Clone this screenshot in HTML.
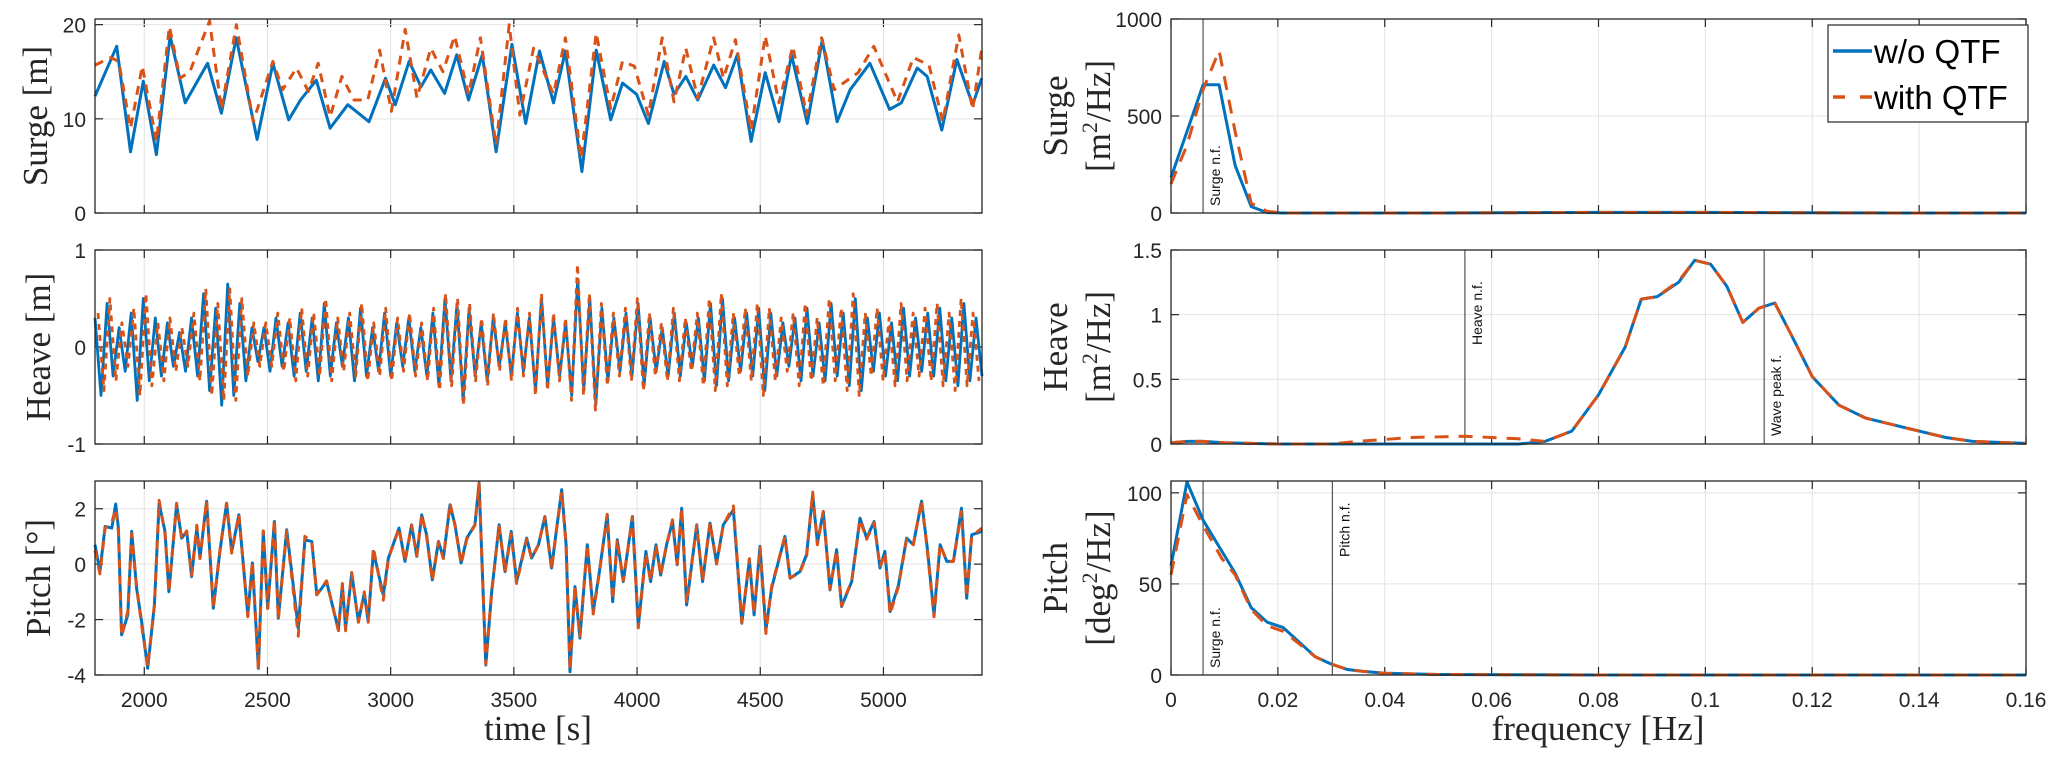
<!DOCTYPE html>
<html><head><meta charset="utf-8"><style>
body{margin:0;background:#fff;}
svg{display:block;}
.tk{font-family:"Liberation Sans",sans-serif;font-size:21px;fill:#262626;}
.lb{font-family:"Liberation Serif",serif;font-size:35px;fill:#262626;}
.an{font-family:"Liberation Sans",sans-serif;font-size:14px;fill:#111;}
.lg{font-family:"Liberation Sans",sans-serif;font-size:33px;fill:#000;}
</style></head><body>
<svg id="fig" width="2067" height="762" viewBox="0 0 2067 762"></svg>
<script>
// ---- data ----
const surgeT_B=[1800,1888,1944,1996,2049,2105,2166,2257,2313,2373,2458,2522,2586,2634,2698,2754,2826,2912,2979,3019,3075,3123,3163,3219,3268,3316,3372,3428,3492,3548,3604,3661,3709,3776,3834,3893,3941,3998,4046,4110,4150,4198,4246,4311,4359,4407,4463,4520,4576,4627,4691,4752,4812,4865,4945,5025,5073,5137,5177,5237,5298,5362,5399];
const surgeB=[12.4,17.7,6.5,14.0,6.2,18.8,11.7,15.9,10.6,18.6,7.8,15.9,9.9,12.0,14.1,9.0,11.5,9.7,14.3,11.5,16.1,13.4,15.2,12.7,16.8,12.0,16.8,6.5,17.9,9.5,17.2,11.7,17.2,4.4,17.3,9.9,13.8,12.6,9.5,16.1,12.6,14.5,12.0,15.7,13.3,16.8,7.6,14.9,9.7,16.8,9.5,18.4,9.7,13.1,15.9,11.0,11.7,15.4,14.5,8.8,16.3,11.5,14.3];
const surgeT_Q=[1800,1864,1896,1944,1992,2049,2102,2145,2185,2265,2313,2374,2442,2522,2562,2618,2666,2706,2754,2802,2851,2907,2955,3003,3059,3107,3163,3212,3260,3316,3364,3428,3481,3524,3580,3661,3709,3773,3834,3893,3941,3989,4046,4102,4150,4198,4246,4311,4351,4399,4463,4520,4576,4632,4688,4749,4800,4897,4961,5057,5121,5185,5241,5306,5362,5399];
const surgeQ=[15.7,16.5,16.1,9.0,15.6,7.6,19.8,14.3,15.0,20.4,11.0,20.0,9.7,16.1,13.1,15.4,12.9,15.9,10.2,14.5,12.0,12.0,17.3,10.8,19.5,12.2,17.5,15.0,18.8,12.6,18.6,7.2,20.0,10.4,17.5,12.6,18.6,5.8,19.1,11.1,16.1,15.6,10.4,18.6,11.8,17.5,12.2,18.6,14.3,18.4,8.8,18.8,11.7,17.7,10.4,18.6,13.1,14.9,17.7,11.8,16.5,15.7,9.7,18.9,11.0,17.5];
const heaveB=[0.3,-0.5,0.45,-0.3,0.2,-0.25,0.35,-0.55,0.5,-0.35,0.3,-0.3,0.25,-0.2,0.15,-0.25,0.3,-0.3,0.55,-0.45,0.4,-0.6,0.65,-0.5,0.45,-0.35,0.2,-0.15,0.2,-0.25,0.3,-0.2,0.25,-0.3,0.35,-0.25,0.3,-0.35,0.45,-0.3,0.25,-0.2,0.3,-0.35,0.4,-0.3,0.2,-0.25,0.35,-0.3,0.25,-0.2,0.3,-0.25,0.2,-0.3,0.35,-0.4,0.5,-0.35,0.45,-0.55,0.4,-0.3,0.25,-0.35,0.3,-0.2,0.25,-0.3,0.35,-0.25,0.3,-0.45,0.5,-0.4,0.3,-0.3,0.25,-0.5,0.7,-0.45,0.5,-0.6,0.4,-0.35,0.3,-0.25,0.35,-0.3,0.45,-0.4,0.3,-0.25,0.2,-0.3,0.35,-0.3,0.25,-0.2,0.3,-0.35,0.45,-0.4,0.5,-0.35,0.3,-0.25,0.35,-0.3,0.4,-0.45,0.35,-0.3,0.25,-0.2,0.3,-0.35,0.4,-0.3,0.25,-0.35,0.45,-0.3,0.35,-0.4,0.5,-0.45,0.3,-0.25,0.35,-0.3,0.25,-0.35,0.4,-0.3,0.3,-0.25,0.35,-0.3,0.4,-0.35,0.3,-0.4,0.45,-0.35,0.3,-0.3];
const heaveQ=[0.35,-0.45,0.5,-0.35,0.25,-0.2,0.4,-0.5,0.55,-0.4,0.25,-0.35,0.3,-0.25,0.2,-0.2,0.35,-0.35,0.6,-0.5,0.45,-0.55,0.6,-0.55,0.5,-0.3,0.25,-0.2,0.25,-0.2,0.35,-0.25,0.3,-0.35,0.4,-0.3,0.35,-0.3,0.5,-0.35,0.3,-0.25,0.35,-0.3,0.45,-0.35,0.25,-0.3,0.4,-0.35,0.3,-0.25,0.35,-0.3,0.25,-0.35,0.4,-0.45,0.55,-0.4,0.5,-0.6,0.45,-0.35,0.3,-0.4,0.35,-0.25,0.3,-0.35,0.4,-0.3,0.35,-0.5,0.55,-0.45,0.35,-0.35,0.3,-0.55,0.85,-0.5,0.55,-0.65,0.45,-0.4,0.35,-0.3,0.4,-0.35,0.5,-0.45,0.35,-0.3,0.25,-0.35,0.4,-0.35,0.3,-0.25,0.35,-0.4,0.5,-0.45,0.55,-0.4,0.35,-0.3,0.4,-0.35,0.45,-0.5,0.4,-0.35,0.3,-0.25,0.35,-0.4,0.45,-0.35,0.3,-0.4,0.5,-0.35,0.4,-0.45,0.55,-0.5,0.35,-0.3,0.4,-0.35,0.3,-0.4,0.45,-0.35,0.35,-0.3,0.4,-0.35,0.45,-0.4,0.35,-0.45,0.5,-0.4,0.35,-0.35];
const pitchT=[1800,1820,1841,1868,1884,1895,1908,1933,1949,1969,1989,2014,2041,2060,2084,2100,2131,2152,2172,2192,2213,2226,2253,2280,2307,2334,2355,2384,2420,2439,2463,2483,2501,2528,2544,2578,2625,2652,2680,2700,2740,2788,2804,2817,2842,2869,2893,2909,2930,2970,2991,3034,3058,3085,3106,3126,3146,3169,3194,3214,3241,3261,3286,3309,3342,3359,3386,3410,3440,3464,3489,3511,3552,3572,3600,3626,3653,3674,3694,3712,3728,3748,3768,3798,3822,3847,3879,3901,3920,3944,3981,4005,4036,4055,4077,4096,4120,4144,4163,4181,4201,4242,4266,4296,4323,4350,4391,4425,4456,4475,4499,4523,4546,4600,4621,4661,4688,4713,4732,4756,4783,4810,4830,4871,4905,4932,4962,4986,5006,5027,5061,5094,5121,5155,5178,5205,5230,5257,5284,5317,5338,5358,5399];
const pitchB=[0.7,-0.27,1.36,1.3,2.17,1.3,-2.55,-1.83,1.18,-0.87,-2.07,-3.76,-1.47,2.2,1.18,-0.99,2.14,0.94,1.18,-0.45,1.3,0.22,2.27,-1.59,0.46,2.2,0.46,1.78,-1.83,0.04,-3.76,1.18,-1.59,1.54,-1.95,1.24,-2.31,0.88,0.82,-1.11,-0.63,-2.37,-0.75,-2.31,-0.33,-2.07,-1.05,-2.07,0.46,-1.11,0.22,1.3,0.1,1.42,0.28,1.78,1.06,-0.57,0.82,0.22,2.14,1.42,0.04,0.94,1.42,2.93,-3.64,-0.99,1.42,-0.27,1.18,-0.63,0.94,0.22,0.7,1.72,-0.14,1.3,2.69,0.7,-3.88,-0.81,-2.67,0.7,-1.71,-0.27,1.78,-1.35,0.88,-0.63,1.72,-2.25,0.46,-0.63,0.7,-0.39,0.7,1.54,-0.02,2.02,-1.47,1.42,-0.63,1.48,0.04,1.42,1.96,-2.13,0.16,-1.83,0.64,-2.37,-0.87,1.0,-0.51,-0.27,0.34,2.51,0.76,1.9,-0.93,0.52,-1.53,-0.63,1.66,0.94,1.54,-0.14,0.46,-1.71,-0.75,0.94,0.7,2.27,0.58,-1.83,0.7,0.1,0.1,2.02,-1.23,1.06,1.18];
const pitchQ=[0.5,-0.35,1.3,1.5,2.0,1.2,-2.6,-1.7,1.1,-0.8,-2.2,-3.7,-1.5,2.3,1.1,-1.0,2.2,0.9,1.2,-0.4,1.4,0.2,2.3,-1.6,0.5,2.2,0.4,1.8,-1.9,0.1,-3.8,1.2,-1.6,1.6,-2.0,1.2,-2.6,1.0,0.8,-1.1,-0.6,-2.4,-0.7,-2.4,-0.3,-2.1,-1.0,-2.1,0.6,-1.3,0.2,1.3,0.1,1.4,0.3,1.8,1.0,-0.6,0.8,0.2,2.2,1.4,0.0,0.9,1.4,2.9,-3.6,-1.0,1.4,-0.3,1.1,-0.7,0.9,0.2,0.7,1.7,-0.2,1.3,2.6,0.7,-3.8,-0.8,-2.6,0.7,-1.8,-0.3,1.8,-1.3,0.9,-0.6,1.7,-2.3,0.4,-0.6,0.7,-0.4,0.7,1.6,0.0,2.0,-1.4,1.4,-0.6,1.5,0.0,1.4,2.1,-2.1,0.2,-1.8,0.6,-2.5,-0.8,1.0,-0.5,-0.3,0.3,2.6,0.7,1.9,-0.9,0.5,-1.5,-0.6,1.6,0.9,1.5,-0.1,0.4,-1.8,-0.8,0.9,0.7,2.3,0.5,-1.9,0.7,0.1,0.1,1.9,-1.2,1.0,1.3];
const fS=[0,0.003,0.006,0.009,0.012,0.015,0.018,0.021,0.03,0.05,0.08,0.1,0.12,0.14,0.16];
const psdSurgeB=[183,420,661,661,246,33,2,0,0,0,3,3,1,0,0];
const psdSurgeQ=[150,350,636,837,420,50,8,0,0,0,3,3,1,0,0];
const fH=[0,0.003,0.006,0.01,0.02,0.03,0.035,0.045,0.055,0.065,0.07,0.075,0.08,0.085,0.088,0.091,0.095,0.098,0.101,0.104,0.107,0.110,0.113,0.116,0.12,0.125,0.13,0.135,0.14,0.145,0.15,0.16];
const psdHeaveB=[0.01,0.02,0.02,0.01,0,0,0,0,0,0,0.02,0.1,0.38,0.75,1.12,1.14,1.25,1.42,1.39,1.22,0.94,1.05,1.09,0.85,0.52,0.3,0.2,0.15,0.1,0.05,0.02,0.005];
const psdHeaveQ=[0.01,0.02,0.02,0.01,0,0,0.02,0.05,0.06,0.04,0.02,0.1,0.38,0.75,1.12,1.14,1.26,1.42,1.39,1.22,0.94,1.05,1.09,0.85,0.52,0.3,0.2,0.15,0.1,0.05,0.02,0.005];
const fP=[0,0.003,0.006,0.0095,0.012,0.015,0.018,0.021,0.024,0.027,0.030,0.033,0.036,0.04,0.05,0.08,0.16];
const psdPitchB=[60,106,85,68,56,37,29,26,18,10,6,3,2,1,0.3,0,0];
const psdPitchQ=[55,99,82,64,55,36,27,24,17,10,6,3,2,1,0.3,0,0];
const timeTicks=[2000,2500,3000,3500,4000,4500,5000];
const freqTicks=[0,0.02,0.04,0.06,0.08,0.1,0.12,0.14,0.16];
const freqTickLabels=["0","0.02","0.04","0.06","0.08","0.1","0.12","0.14","0.16"];
const markers=[{p:0,f:0.006,t:"Surge n.f.",y:206},{p:1,f:0.055,t:"Heave n.f.",y:345},{p:1,f:0.111,t:"Wave peak f.",y:436},{p:2,f:0.006,t:"Surge n.f.",y:668},{p:2,f:0.0302,t:"Pitch n.f.",y:557}];

const NS="http://www.w3.org/2000/svg";
const svg=document.getElementById('fig');
function mk(tag,at,parent){const e=document.createElementNS(NS,tag);for(const k in at)e.setAttribute(k,at[k]);(parent||svg).appendChild(e);return e;}
const rows=[[19,213],[250,444],[481,675]];
const BLUE="#0072BD",ORG="#D95319";
function scale(d0,d1,r0,r1){return v=>r0+(v-d0)/(d1-d0)*(r1-r0);}
function panel(x0,x1,y0,y1,xd,yd,xt,yt,ytl,xtl,name){
  const g=mk('g',{});
  
  
  const sx=scale(xd[0],xd[1],x0,x1),sy=scale(yd[0],yd[1],y1,y0);
  xt.forEach((v,i)=>{const x=sx(v);
    const gl=mk('line',{x1:x,x2:x,y1:y0,y2:y1,stroke:'#e3e3e3','stroke-width':1},g);
    
    mk('line',{x1:x,x2:x,y1:y1,y2:y1-8,stroke:'#262626','stroke-width':1.2},g);
    mk('line',{x1:x,x2:x,y1:y0,y2:y0+8,stroke:'#262626','stroke-width':1.2},g);
    if(xtl){const t=mk('text',{x:x,y:y1+32,'text-anchor':'middle',class:'tk'},g);t.textContent=xtl[i];
      }
  });
  yt.forEach((v,i)=>{const y=sy(v);
    const gl=mk('line',{x1:x0,x2:x1,y1:y,y2:y,stroke:'#e3e3e3','stroke-width':1},g);
    
    mk('line',{x1:x0,x2:x0+8,y1:y,y2:y,stroke:'#262626','stroke-width':1.2},g);
    mk('line',{x1:x1,x2:x1-8,y1:y,y2:y,stroke:'#262626','stroke-width':1.2},g);
    const t=mk('text',{x:x0-9,y:y+8,'text-anchor':'end',class:'tk'},g);t.textContent=ytl[i];
    
  });
  return {g,sx,sy,x0,x1,y0,y1};
}
function frame(P){const r=mk('rect',{x:P.x0,y:P.y0,width:P.x1-P.x0,height:P.y1-P.y0,fill:'none',stroke:'#262626','stroke-width':1.3},P.g);
  }
function line(P,xs,ys,color,dash,name,w){
  const d=xs.map((x,i)=>(i?'L':'M')+P.sx(x).toFixed(1)+','+P.sy(ys[i]).toFixed(1)).join('');
  const p=mk('path',{d:d,fill:'none',stroke:color,'stroke-width':w||3,'stroke-linejoin':'round'},P.g);
  if(dash)p.setAttribute('stroke-dasharray',dash);
  
  
}
const LX0=95,LX1=982,RX0=1171,RX1=2026;
const tl=timeTicks.map(String);
const A=panel(LX0,LX1,rows[0][0],rows[0][1],[1800,5400],[0,20.6],timeTicks,[0,10,20],['0','10','20'],null,'surge-time-axes');
line(A,surgeT_B,surgeB,BLUE,null,'surge-wo-qtf-line');line(A,surgeT_Q,surgeQ,ORG,'9,7','surge-with-qtf-line');frame(A);
const B=panel(LX0,LX1,rows[1][0],rows[1][1],[1800,5400],[-1,1],timeTicks,[-1,0,1],['-1','0','1'],null,'heave-time-axes');
const hT=heaveB.map((_,i)=>1800+i*(3600/(heaveB.length-1)));
const hTq=heaveQ.map((_,i)=>1800+12+i*(3576/(heaveQ.length-1)));
line(B,hT,heaveB,BLUE,null,'heave-wo-qtf-line',2.8);line(B,hTq,heaveQ,ORG,'6,5','heave-with-qtf-line',2.8);frame(B);
const C=panel(LX0,LX1,rows[2][0],rows[2][1],[1800,5400],[-4,3],timeTicks,[-4,-2,0,2],['-4','-2','0','2'],tl,'pitch-time-axes');
line(C,pitchT,pitchB,BLUE,null,'pitch-wo-qtf-line');line(C,pitchT,pitchQ,ORG,'9,7','pitch-with-qtf-line');frame(C);
const D=panel(RX0,RX1,rows[0][0],rows[0][1],[0,0.16],[0,1000],freqTicks,[0,500,1000],['0','500','1000'],null,'surge-psd-axes');
const E=panel(RX0,RX1,rows[1][0],rows[1][1],[0,0.16],[0,1.5],freqTicks,[0,0.5,1,1.5],['0','0.5','1','1.5'],null,'heave-psd-axes');
const F=panel(RX0,RX1,rows[2][0],rows[2][1],[0,0.16],[0,106.5],freqTicks,[0,50,100],['0','50','100'],freqTickLabels,'pitch-psd-axes');
const RP=[D,E,F];
markers.forEach(m=>{const P=RP[m.p];const x=P.sx(m.f);
  const l=mk('line',{x1:x,x2:x,y1:P.y0,y2:P.y1,stroke:'#555','stroke-width':1.2},P.g);
  
  const t=mk('text',{x:0,y:0,class:'an',transform:`translate(${x+17},${m.y}) rotate(-90)`},P.g);t.textContent=m.t;
  
});
line(D,fS,psdSurgeB,BLUE,null,'surge-psd-wo-qtf');line(D,fS,psdSurgeQ,ORG,'14,10','surge-psd-with-qtf');frame(D);
line(E,fH,psdHeaveB,BLUE,null,'heave-psd-wo-qtf');line(E,fH,psdHeaveQ,ORG,'14,10','heave-psd-with-qtf');frame(E);
line(F,fP,psdPitchB,BLUE,null,'pitch-psd-wo-qtf');line(F,fP,psdPitchQ,ORG,'14,10','pitch-psd-with-qtf');frame(F);
function lab(x,y,txt,name,rot){const t=mk('text',{x:0,y:0,class:'lb','text-anchor':'middle',transform:`translate(${x},${y})`+(rot?' rotate(-90)':'')});t.innerHTML=txt;
  }
lab(47,116,'Surge [m]','surge-y-label',1);
lab(50,347,'Heave [m]','heave-y-label',1);
lab(50,578,'Pitch [°]','pitch-y-label',1);
lab(1067,116,'Surge','surge-psd-y-label',1);
lab(1110,116,'[m<tspan font-size="22" dy="-13">2</tspan><tspan dy="13">/Hz]</tspan>','surge-psd-y-unit',1);
lab(1067,347,'Heave','heave-psd-y-label',1);
lab(1110,347,'[m<tspan font-size="22" dy="-13">2</tspan><tspan dy="13">/Hz]</tspan>','heave-psd-y-unit',1);
lab(1067,578,'Pitch','pitch-psd-y-label',1);
lab(1110,578,'[deg<tspan font-size="22" dy="-13">2</tspan><tspan dy="13">/Hz]</tspan>','pitch-psd-y-unit',1);
lab(538,740,'time [s]','x-axis-title-time',0);
lab(1598,740,'frequency [Hz]','x-axis-title-frequency',0);
const lg=mk('g',{});


mk('rect',{x:1828,y:25,width:200,height:97,fill:'#fff',stroke:'#262626','stroke-width':1.2},lg);
const l1=mk('line',{x1:1833,x2:1872,y1:51,y2:51,stroke:BLUE,'stroke-width':3.5},lg);

const l2=mk('line',{x1:1833,x2:1872,y1:97,y2:97,stroke:ORG,'stroke-width':3.5,'stroke-dasharray':'12,15'},lg);

const t1=mk('text',{x:1874,y:63,class:'lg'},lg);t1.textContent='w/o QTF';

const t2=mk('text',{x:1874,y:109,class:'lg'},lg);t2.textContent='with QTF';

</script>
</body></html>
